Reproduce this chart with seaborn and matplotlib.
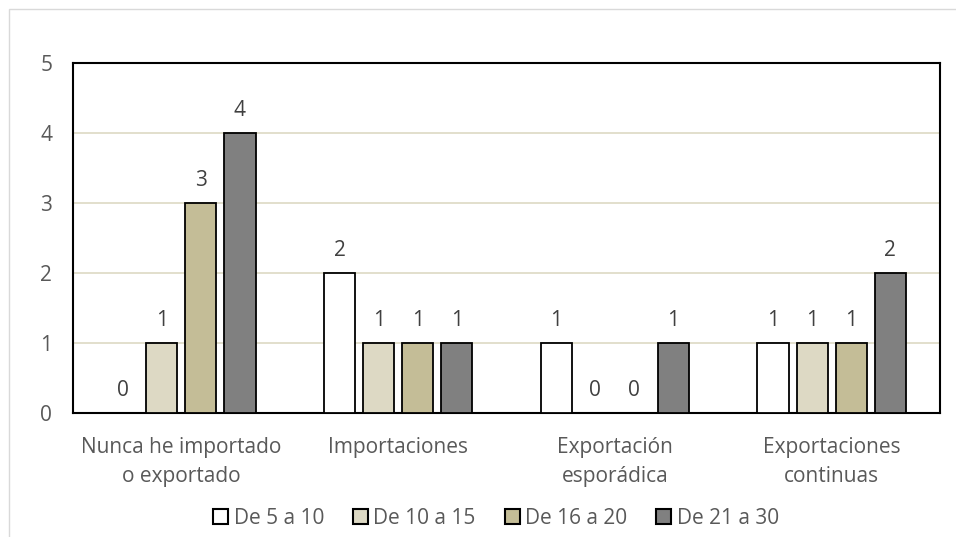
import matplotlib
matplotlib.use("Agg")
import matplotlib.pyplot as plt
import seaborn as sns
import pandas as pd
from matplotlib.patches import Rectangle

categories = ["Nunca he importado\no exportado", "Importaciones",
              "Exportación\nesporádica", "Exportaciones\ncontinuas"]
series = ["De 5 a 10", "De 10 a 15", "De 16 a 20", "De 21 a 30"]
values = {
    "De 5 a 10": [0, 2, 1, 1],
    "De 10 a 15": [1, 1, 0, 1],
    "De 16 a 20": [3, 1, 0, 1],
    "De 21 a 30": [4, 1, 1, 2],
}
colors = ["#FFFFFF", "#DDD9C4", "#C4BD97", "#808080"]
y_ticks = [0, 1, 2, 3, 4, 5]

rows = []
for s in series:
    for c, v in zip(categories, values[s]):
        rows.append({"categoria": c, "grupo": s, "valor": v})
df = pd.DataFrame(rows)

sns.set_theme(style="white")
plt.rcParams["font.family"] = ["Open Sans", "DejaVu Sans"]
text_color = "#595959"
fs = 15

fig = plt.figure(figsize=(9.56, 5.37), dpi=100)
ax = fig.add_axes([73 / 956, 1 - 413 / 537, (940 - 73) / 956, (413 - 63) / 537])

sns.barplot(data=df, x="categoria", y="valor", hue="grupo", order=categories,
            hue_order=series, palette=colors, saturation=1, width=0.72, gap=0.2,
            edgecolor="black", linewidth=1.3, ax=ax, legend=True, zorder=3)

# value labels above each bar
for container in ax.containers:
    ax.bar_label(container, labels=[f"{int(b.get_height())}" for b in container],
                 padding=9, fontsize=fs, color="#404040")

ax.set_ylim(0, 5)
ax.set_yticks(y_ticks)
ax.set_yticklabels([str(t) for t in y_ticks], fontsize=fs, color=text_color)
ax.tick_params(axis="y", length=0, pad=15)
ax.tick_params(axis="x", length=0, pad=17, labelsize=fs, labelcolor=text_color)
for lbl in ax.get_xticklabels():
    lbl.set_multialignment("center")
    lbl.set_linespacing(1.5)
ax.set_xlabel("")
ax.set_ylabel("")
ax.yaxis.grid(True, color="#DDD9C3", linewidth=1.2, zorder=0)
ax.set_axisbelow(True)
for sp in ax.spines.values():
    sp.set_visible(True)
    sp.set_color("black")
    sp.set_linewidth(1.5)

leg = ax.legend(loc="center", bbox_to_anchor=((496 - 73) / 867, (413 - 518) / 350),
                ncol=4, frameon=False, fontsize=fs, handlelength=0.72,
                handleheight=0.72, handletextpad=0.25, columnspacing=1.4,
                labelcolor=text_color)
for h in leg.legend_handles:
    h.set_linewidth(1.5)

# outer chart border
fig.patches.append(Rectangle((9 / 956, -0.1), 1.2, 1 - 9 / 537 + 0.1,
                             transform=fig.transFigure, fill=False,
                             edgecolor="#D9D9D9", linewidth=1.0))

fig.savefig("out.png", dpi=100)
